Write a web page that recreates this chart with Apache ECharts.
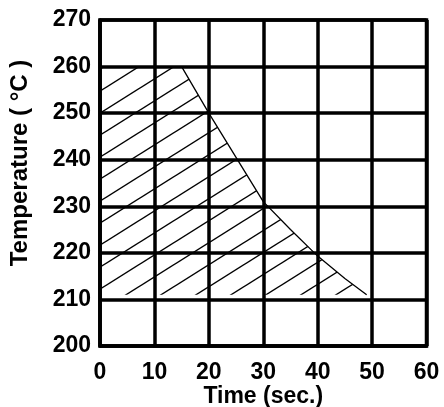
<!DOCTYPE html>
<html>
<head>
<meta charset="utf-8">
<script src="https://cdn.jsdelivr.net/npm/echarts@6/dist/echarts.min.js"></script>
<style>
html,body{margin:0;padding:0;background:#fff;}
#chart{width:444px;height:407px;}
</style>
</head>
<body>
<div id="chart"></div>
<script>
// Data
var timeTicks = [0, 10, 20, 30, 40, 50, 60];
var tempTicks = [200, 210, 220, 230, 240, 250, 260, 270];
var zoneTime = [0, 15, 20, 25, 30, 35, 40, 45, 49];
var zoneTemp = [260, 260, 250, 240.5, 231, 225, 219.3, 214.5, 211];
var zoneBase = 211;

var FONT = '"Liberation Sans", Arial, sans-serif';

// hatch pattern tile
var tw = 35, th = 22;
var cv = document.createElement('canvas');
cv.width = tw; cv.height = th;
var cx = cv.getContext('2d');
cx.strokeStyle = '#000';
cx.lineWidth = 1.4;
for (var k = -1; k <= 1; k++) {
  cx.beginPath();
  cx.moveTo(k * tw - 2, th + 2 * th / tw);
  cx.lineTo(k * tw + tw + 2, -2 * th / tw);
  cx.stroke();
}

var pts = zoneTime.map(function (t, i) { return [t, zoneTemp[i]]; });

var chart = echarts.init(document.getElementById('chart'));
chart.setOption({
  animation: false,
  grid: {
    left: 100, right: 17.5, top: 20, bottom: 61,
    containLabel: false, outerBoundsMode: 'none',
    show: true, borderColor: '#000', borderWidth: 3.5, backgroundColor: 'transparent'
  },
  xAxis: {
    type: 'value', min: timeTicks[0], max: timeTicks[timeTicks.length - 1], interval: 10,
    name: 'Time (sec.)', nameLocation: 'middle', nameGap: 39, nameMoveOverlap: false,
    nameTextStyle: { fontFamily: FONT, fontWeight: 'bold', fontSize: 23, color: '#000' },
    axisLine: { show: true, lineStyle: { color: '#000', width: 3.5 } },
    axisTick: { show: false },
    axisLabel: { margin: 15, fontFamily: FONT, fontWeight: 'bold', fontSize: 23, color: '#000' },
    splitLine: { show: true, lineStyle: { color: '#000', width: 3.5 } }
  },
  yAxis: {
    type: 'value', min: tempTicks[0], max: tempTicks[tempTicks.length - 1], interval: 10,
    name: 'Temperature ( °C )', nameLocation: 'middle', nameGap: 68, nameMoveOverlap: false,
    nameTextStyle: { fontFamily: FONT, fontWeight: 'bold', fontSize: 24, color: '#000', padding: [0, 0, 0, 40] },
    axisLine: { show: true, lineStyle: { color: '#000', width: 3.5 } },
    axisTick: { show: false },
    axisLabel: { margin: 9, fontFamily: FONT, fontWeight: 'bold', fontSize: 23, color: '#000' },
    splitLine: { show: true, lineStyle: { color: '#000', width: 3.5 } }
  },
  series: [{
    type: 'line',
    data: pts,
    symbol: 'none',
    z: 1,
    lineStyle: { color: '#000', width: 1.3 },
    areaStyle: { origin: zoneBase, opacity: 1, color: { image: cv, repeat: 'repeat' } }
  }]
});
</script>
</body>
</html>
